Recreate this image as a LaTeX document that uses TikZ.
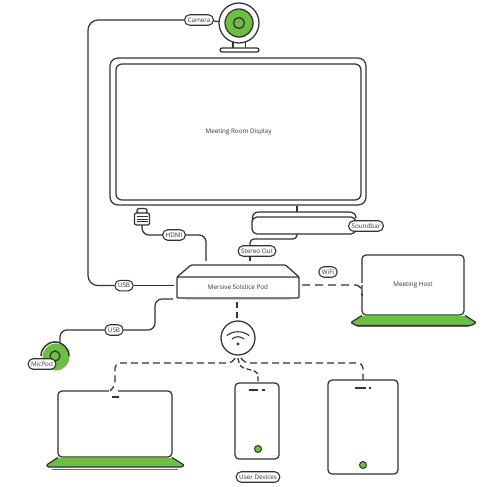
\documentclass[tikz,border=0pt]{standalone}
\usepackage{fontspec}
\setmainfont{Open Sans}
\usepackage{tikz}
\usetikzlibrary{calc}
\definecolor{inkgray}{HTML}{333333}
\definecolor{leafgreen}{HTML}{6CBE45}
\definecolor{palegreen}{HTML}{BCE2A6}
\tikzset{>=latex,
  wire/.style={draw=inkgray, line width=1.25pt, rounded corners=7pt},
  wirelink/.style={wire, dash pattern=on 8pt off 5pt},
  pill/.style={draw=inkgray, line width=1.1pt, fill=white, rounded corners=5pt, font=\fontsize{6.3}{7}\selectfont, text=inkgray, minimum height=10.5pt, inner xsep=3pt, inner ysep=0pt},
  box/.style={draw=inkgray, line width=1.25pt, fill=white, rounded corners=4pt, inner sep=0pt, outer sep=0pt, font=\fontsize{6.3}{7}\selectfont, text=inkgray},
  disc/.style={circle, draw=inkgray, line width=1.25pt, fill=white, inner sep=0pt, outer sep=0pt},
  greendisc/.style={circle, fill=leafgreen, inner sep=0pt, outer sep=0pt}}
\begin{document}
\begin{tikzpicture}[x=1pt, y=-1pt]
\useasboundingbox (0,0) rectangle (496,487);
% display and soundbar
\node[box, rounded corners=8pt, minimum width=256pt, minimum height=147pt] (display) at (238,131.5) {};
\node[box, rounded corners=6pt, minimum width=245pt, minimum height=136pt] (screen) at (238.5,132) {Meeting Room Display};
\coordinate (neck) at (297,212);
\draw[wire] (297,205.5) -- (neck);
\draw[inkgray, line width=1.25pt] (252.5,222) -- (252.5,218) .. controls (252.5,214) and (255,212) .. (259,212) -- (349,212) .. controls (353,212) and (356,214) .. (356,218);
\node[box, rounded corners=5pt, minimum width=104pt, minimum height=17pt] (soundbar) at (304,225.5) {};
\node[pill] (soundlabel) at (366,226) {Soundbar};
% camera
\draw[wire, rounded corners=2pt] (233,42) -- (233,49) (245.5,42) -- (245.5,49);
\node[box, rounded corners=2pt, minimum width=39pt, minimum height=4pt] (camstand) at (239.5,50) {};
\node[disc, minimum size=40pt] (camera) at (239,23) {};
\node[greendisc, minimum size=28pt] (camgreen) at (239.5,23.5) {};
\node[disc, fill=none, minimum size=28pt] (camlens) at (239,23) {};
\node[disc, fill=none, minimum size=11pt] (camring) at (239,23) {};
\node[pill] (camlabel) at (199,20) {Camera};
\draw[wire] (camlabel) -- (camera);
% pod
\node[box, rounded corners=1pt, minimum width=122pt, minimum height=21pt] (pod) at (238,287.5) {Mersive Solstice Pod};
\draw[wire, rounded corners=1pt, line join=round] (pod.north west) -- (191,265) -- (285.5,265) -- (pod.north east);
\draw[palegreen, line width=1.3pt] (186,299.5) -- (291,299.5);
% cables
\coordinate (leftdrop) at (88,150);
\node[pill] (usbpod) at (124,285.6) {USB};
\draw[wire, rounded corners=10pt] (camlabel) -| (leftdrop) |- (usbpod);
\coordinate (podleft) at (174,285.6);
\draw[wire] (usbpod) -- (podleft);
\node[box, rounded corners=1.5pt, minimum width=10pt, minimum height=5pt] (plugtip) at (142,211) {};
\node[box, rounded corners=2pt, minimum width=15pt, minimum height=12pt] (plug) at (142,219) {};
\foreach \y in {216.5,219,221.5}
  \draw[inkgray, line width=0.8pt] (136.5,\y) -- (147.5,\y);
\node[pill] (hdmilabel) at (174,235) {HDMI};
\coordinate (podhdmi) at (206,261);
\draw[wire] (plug.south) |- (hdmilabel);
\draw[wire] (hdmilabel) -| (podhdmi);
\node[pill] (stereolabel) at (257,251) {Stereo Out};
\coordinate (soundout) at (297,234);
\coordinate (stereoin) at (250,245.5);
\coordinate (podstereo) at (250,261);
\draw[wire, rounded corners=4pt] (soundout) -- (297,239) -- (250,239) -- (stereoin);
\draw[wire] (stereoin |- stereolabel.south) -- (podstereo);
% micpod
\node[greendisc, minimum size=27pt] (micgreen) at (56,357) {};
\draw[inkgray, line width=1.5pt] (41,356) arc[start angle=180, end angle=360, radius=14];
\node[disc, fill=none, minimum size=10pt] (micring) at (55,356) {};
\node[pill] (miclabel) at (42,364) {MicPod};
\node[pill] (usbmic) at (114,330) {USB};
\coordinate (podlow) at (173,299);
\coordinate (micin) at (60,342.5);
\draw[wire] (podlow) -| (155,315) |- (usbmic);
\draw[wire] (usbmic) -| (micin);
% meeting host
\fill[leafgreen] (362,316) -- (351,323) -- (356,325) -- (472,325) -- (476,323) -- (465,316) -- cycle;
\draw[wire, rounded corners=1pt] (362,315.5) -- (351,322.5) -- (356,325.4) -- (472,325.4) -- (476,322.5) -- (465,315.5);
\draw[inkgray!75, line width=1pt] (357,326.8) -- (469,326.8);
\node[box, minimum width=102pt, minimum height=60pt] (host) at (413,285) {Meeting Host};
\fill[white] (360,282.5) rectangle (364,285);
\node[pill] (wifilabel) at (328,272) {WiFi};
\coordinate (podright) at (302,285);
\coordinate (hostin) at (362,296);
\draw[wirelink] (podright) -| (hostin);
% wifi hub
\node[disc, minimum size=34pt] (hub) at (238,338) {};
\fill[inkgray] (238,344) circle (1.7);
\draw[inkgray, line width=1.1pt, line cap=round] (227,335.5) .. controls (233,330.5) and (243,330.5) .. (249,335.5);
\draw[inkgray, line width=1.1pt, line cap=round] (232,339) .. controls (235,336) and (241,336) .. (244,339);
\coordinate (podbottom) at (237,302);
\coordinate (hubtop) at (237,318);
\draw[wire, dash pattern=on 6pt off 4pt] (podbottom) -- (hubtop);
% user devices
\node[box, minimum width=114pt, minimum height=66pt] (laptop) at (115,424) {};
\fill[leafgreen] (58,458) -- (47,465.5) -- (48,467) -- (182,467) -- (183,465.5) -- (172,458) -- cycle;
\draw[wire, rounded corners=1pt] (58,457.5) -- (46.5,465) -- (48,467) -- (182,467) -- (184,465) -- (172,457.5);
\draw[inkgray!75, line width=1.2pt] (52,469.5) -- (178,469.5);
\fill[white] (108.5,388) rectangle (118,393);
\draw[wire] (112,397) -- (119,397);
\node[box, minimum width=44pt, minimum height=76pt] (phone) at (257,421) {};
\draw[wire] (249,390) -- (258,390) (262,390) -- (265,390);
\node[greendisc, draw=inkgray, line width=1pt, minimum size=7pt] (phonebtn) at (258,449) {};
\node[box, minimum width=70pt, minimum height=94pt] (tablet) at (363,427) {};
\draw[wire] (355,388) -- (366,388) (369,388) -- (371,388);
\node[greendisc, draw=inkgray, line width=1pt, minimum size=7pt] (tabletbtn) at (363,465) {};
\node[pill] (userlabel) at (258,477) {User Devices};
\coordinate (hubleft) at (235,358);
\coordinate (hubmid) at (238,358);
\coordinate (hubright) at (241,358);
\coordinate (laptopin) at (110,391);
\coordinate (phonein) at (258,383);
\coordinate (tabletin) at (363,380);
\draw[wire, dash pattern=on 7pt off 4pt, rounded corners=5pt] (hubleft) -- (233,363) -- (115,363) -- (115,386) -- (laptopin);
\draw[wire, dash pattern=on 5pt off 2.5pt, rounded corners=4pt] (hubmid) -- (240,367) -- (258,372) -- (phonein);
\draw[wire, dash pattern=on 7pt off 4pt, rounded corners=5pt] (hubright) -- (244,363) -- (363,363) -- (tabletin);
\end{tikzpicture}
\end{document}
